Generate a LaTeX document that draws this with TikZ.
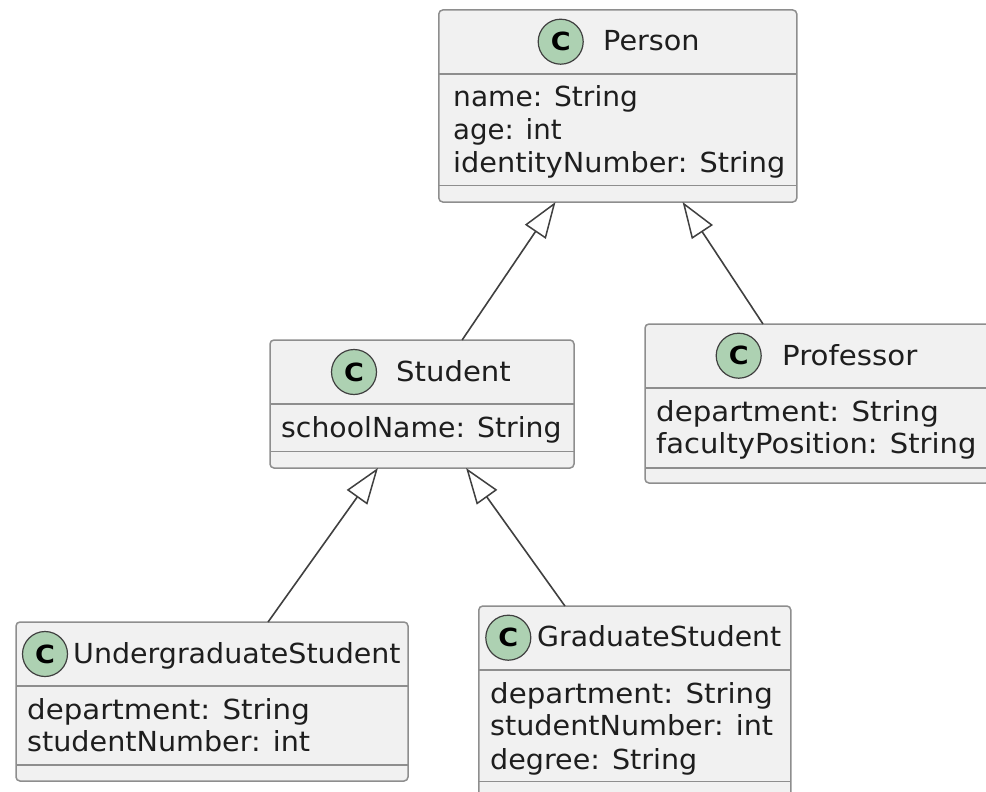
\documentclass[tikz,border=0pt]{standalone}
\usepackage{fontspec}
\setmainfont{DejaVu Sans}
\usetikzlibrary{arrows.meta,calc}
\definecolor{boxfill}{HTML}{F1F1F1}
\definecolor{boxline}{HTML}{8E8E8E}
\definecolor{spot}{HTML}{ADD1B2}
\definecolor{ink}{HTML}{404040}
\definecolor{txt}{HTML}{1E1E1E}
\tikzset{
  x=1pt,y=-1pt,
  classbox/.style={draw=boxline,fill=boxfill,line width=1.5pt,rounded corners=4pt,inner sep=0pt,outer sep=0pt},
  sepline/.style={draw=boxline,line width=1.5pt},
  spotc/.style={circle,draw=ink,fill=spot,line width=1.2pt,minimum size=45pt,inner sep=0pt,text=black,font=\fontsize{25}{25}\selectfont\bfseries\addfontfeature{FakeStretch=1.08}},
  label/.style={anchor=base west,inner sep=0pt,text=txt,font=\fontsize{27.6}{33}\selectfont\addfontfeature{FakeStretch=#1}},
  label/.default=1.0,
  inherit/.style={draw=ink,line width=1.6pt,-{Triangle[fill=white,length=36pt,width=25pt,line width=1.5pt]}},
}
\begin{document}
\begin{tikzpicture}
\useasboundingbox (0,0) rectangle (986,792);
\clip (0,0) rectangle (986,792);
\fill[white] (0,0) rectangle (986,792);
% boxes
\node[classbox,minimum width=358pt,minimum height=192pt] (person) at (617.8,106) {};
\node[classbox,minimum width=304pt,minimum height=128pt] (student) at (422,404) {};
\node[classbox,minimum width=345pt,minimum height=159pt] (professor) at (817.5,403.5) {};
\node[classbox,minimum width=392pt,minimum height=159pt] (under) at (212,701.5) {};
\node[classbox,minimum width=312pt,minimum height=192pt] (grad) at (634.8,702) {};
% separators
\draw[sepline] (person.west |- 0,74) -- (person.east |- 0,74);
\draw[sepline] (person.west |- 0,185.5) -- (person.east |- 0,185.5);
\draw[sepline] (student.west |- 0,404) -- (student.east |- 0,404);
\draw[sepline] (student.west |- 0,451.5) -- (student.east |- 0,451.5);
\draw[sepline] (professor.west |- 0,388) -- (professor.east |- 0,388);
\draw[sepline] (professor.west |- 0,468) -- (professor.east |- 0,468);
\draw[sepline] (under.west |- 0,686) -- (under.east |- 0,686);
\draw[sepline] (under.west |- 0,765) -- (under.east |- 0,765);
\draw[sepline] (grad.west |- 0,670) -- (grad.east |- 0,670);
\draw[sepline] (grad.west |- 0,781.5) -- (grad.east |- 0,781.5);
% spots
\node[spotc] (cperson) at (560.7,41.7) {C};
\node[spotc] (cstudent) at (354,372) {C};
\node[spotc] (cprofessor) at (738.7,355.7) {C};
\node[spotc] (cunder) at (45,654) {C};
\node[spotc] (cgrad) at (508.3,637.7) {C};
% titles
\node[label=1.04] (tperson) at (603,50.7) {Person};
\node[label=1.055] (tstudent) at (396,381) {Student};
\node[label=1.06] (tprofessor) at (782,365) {Professor};
\node[label=1.032] (tunder) at (73,663) {UndergraduateStudent};
\node[label=1.025] (tgrad) at (537,646) {GraduateStudent};
% attributes
\node[label=1.017] (a1) at (453,106.5) {name: String};
\node[label=1.0] (a2) at (453,139.5) {age: int};
\node[label=1.041] (a3) at (453,172.5) {identityNumber: String};
\node[label=1.026] (a4) at (281,437) {schoolName: String};
\node[label=1.06] (a5) at (656,421) {department: String};
\node[label=1.05] (a6) at (656,453) {facultyPosition: String};
\node[label=1.06] (a7) at (27,719) {department: String};
\node[label=1.037] (a8) at (27,751) {studentNumber: int};
\node[label=1.06] (a9) at (490,703) {department: String};
\node[label=1.037] (a10) at (490,735) {studentNumber: int};
\node[label=1.035] (a11) at (490,769) {degree: String};
% inheritance
\draw[inherit] ($(student.north west)!0.632!(student.north east)$) -- ($(person.south west)!0.326!(person.south east)$);
\draw[inherit] ($(professor.north west)!0.342!(professor.north east)$) -- ($(person.south west)!0.681!(person.south east)$);
\draw[inherit] ($(under.north west)!0.643!(under.north east)$) -- ($(student.south west)!0.355!(student.south east)$);
\draw[inherit] ($(grad.north west)!0.276!(grad.north east)$) -- ($(student.south west)!0.645!(student.south east)$);
\end{tikzpicture}
\end{document}
